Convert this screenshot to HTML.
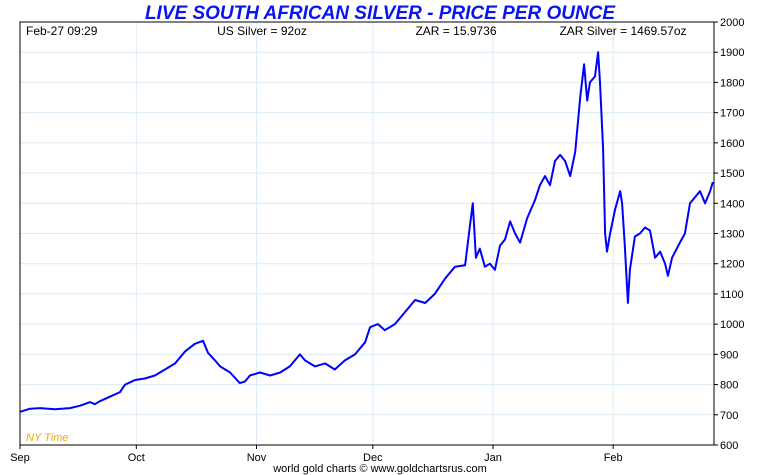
<!DOCTYPE html>
<html><head><meta charset="utf-8"><style>
body{margin:0;background:#fff;width:760px;height:475px;overflow:hidden}
svg{display:block;font-family:"Liberation Sans",Arial,sans-serif}
</style></head><body>
<svg id="chart" width="760" height="475">
<text x="380" y="19" text-anchor="middle" font-size="19" font-weight="bold" font-style="italic" fill="#0a14f0">LIVE SOUTH AFRICAN SILVER - PRICE PER OUNCE</text>
<g id="grid"></g>
<g id="line"></g>
<rect x="20" y="22" width="694" height="423" fill="none" stroke="#000" stroke-width="1"/>
<text x="26" y="35" font-size="12">Feb-27  09:29</text>
<text x="262" y="35" text-anchor="middle" font-size="12">US Silver = 92oz</text>
<text x="456" y="35" text-anchor="middle" font-size="12">ZAR = 15.9736</text>
<text x="623" y="35" text-anchor="middle" font-size="12">ZAR Silver = 1469.57oz</text>
<text x="26" y="441" font-size="11" font-style="italic" fill="#f5a800">NY Time</text>
<g id="yaxis"></g>
<g id="xaxis"></g>
<text x="380" y="472" text-anchor="middle" font-size="11">world gold charts © www.goldchartsrus.com</text>
</svg>
<script>
const monthLabels=["Sep","Oct","Nov","Dec","Jan","Feb"];
const monthDays=[0,30,61,91,122,153];
const yTicks=[600,700,800,900,1000,1100,1200,1300,1400,1500,1600,1700,1800,1900,2000];
const days=[0,2.6,5.2,9,12.9,15.5,18.1,19.3,20.6,23.2,25.8,27.1,29.7,32.2,34.8,37.4,40,42.6,45.1,47.2,48.5,50.3,51.6,54.2,56.7,58,59.3,61.9,64.5,67.1,69.6,72.2,73.5,76.1,78.7,81.2,83.8,86.4,89,90.3,92.3,94.1,96.7,99.3,101.9,104.5,107,109.6,112.2,114.8,116.1,116.8,117.6,118.6,119.9,121.2,122.5,123.8,125.1,126.4,127.7,129,130.8,132.8,134.1,135.4,136.7,138,139.3,140.6,141.9,143.2,144.5,145.5,146.3,147,148.3,149.1,149.6,150.4,150.9,151.4,152.2,153.5,154.8,155.3,156,156.8,157.3,158.6,159.9,161.2,162.5,163.8,165.1,166.4,167.1,168.2,170.2,171.5,172.8,174.1,175.4,176.7,178,178.7];
const prices=[710,720,722,718,722,730,742,735,745,760,775,800,815,820,830,850,870,910,935,945,905,880,860,840,805,810,830,840,830,840,860,900,880,860,870,850,880,900,940,990,1000,980,1000,1040,1080,1070,1100,1150,1190,1195,1330,1400,1220,1250,1190,1200,1180,1260,1280,1340,1300,1270,1350,1410,1460,1490,1460,1540,1560,1540,1490,1570,1750,1860,1740,1800,1820,1900,1800,1580,1300,1240,1300,1380,1440,1400,1260,1070,1180,1290,1300,1320,1310,1220,1240,1200,1160,1220,1270,1300,1400,1420,1440,1400,1440,1470];
const NS="http://www.w3.org/2000/svg";
const X=d=>20+d/179*694;
const Y=v=>445-(v-600)/1400*423;
function mk(t,a,p){const e=document.createElementNS(NS,t);for(const k in a)e.setAttribute(k,a[k]);p.appendChild(e);return e;}
const grid=document.getElementById('grid'),ya=document.getElementById('yaxis'),xa=document.getElementById('xaxis');
yTicks.forEach(v=>{
 const g=mk('line',{x1:20,x2:714,y1:Y(v),y2:Y(v),stroke:'#dcebf7','stroke-width':1},grid);
 
 
 const t=mk('line',{x1:714,x2:718,y1:Y(v),y2:Y(v),stroke:'#000'},ya);
 
 
 const l=mk('text',{x:720,y:Y(v)+4,'font-size':11},ya);l.textContent=v;
 
 
});
monthDays.forEach((d,i)=>{
 const g=mk('line',{x1:X(d),x2:X(d),y1:22,y2:445,stroke:'#dcebf7'},grid);
 
 
 const t=mk('line',{x1:X(d),x2:X(d),y1:445,y2:449,stroke:'#000'},xa);
 
 
 const l=mk('text',{x:X(d),y:461,'font-size':11,'text-anchor':'middle'},xa);l.textContent=monthLabels[i];
 
 
});
const pts=days.map((d,i)=>X(d).toFixed(1)+','+Y(prices[i]).toFixed(1)).join(' ');
const pl=mk('polyline',{points:pts,fill:'none',stroke:'#0000ff','stroke-width':2,'stroke-linejoin':'round'},document.getElementById('line'));


</script>
</body></html>
